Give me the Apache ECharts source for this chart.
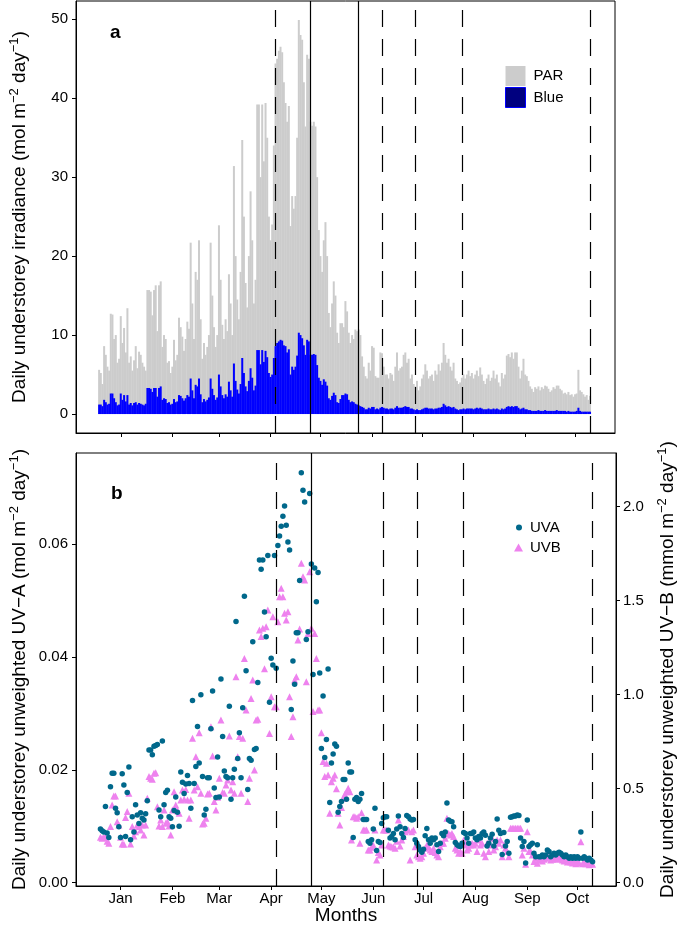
<!DOCTYPE html>
<html><head><meta charset="utf-8">
<script src="https://cdn.jsdelivr.net/npm/echarts@6/dist/echarts.min.js"></script>
<style>html,body{margin:0;padding:0;background:#fff}#c{width:685px;height:935px}</style>
</head><body><div id="c"></div>
<script>
// ---- data (day 0 = 1 January) ----
const monthTickDays = [0,31,59,90,120,151,181,212,243,273];
const monthLabels = ['Jan','Feb','Mar','Apr','May','Jun','Jul','Aug','Sep','Oct'];

const parStartDay = -13;
const par = [
5.6,5.2,3.8,8.6,7.5,6,5.5,12.7,12.6,9.5,
10,6.5,7,12.4,9,10.9,7.8,13.4,6.5,7.3,
5.5,6.8,8.6,5.8,7.9,7.5,6.5,6,5.5,15.7,
15.7,15.5,12.5,15.7,16.3,10.5,16.3,16.8,8.5,10,
9.5,6.5,6.7,5.2,6,9.4,6.8,7.5,12.2,11,
9.8,8,9.5,11.7,10.8,21.7,14,9.5,18,17,
22,12,7,9,7.5,8.5,10,21.7,15,11,
8.5,10,23.9,17,11.3,9.5,12,10.5,17.7,14,
10,31.4,20,14.5,12,18,34.7,25,16.6,13.5,
20,28.2,22,14,17,39.2,39.2,30,39.2,32,
39.4,35,25,22,24,34,44.4,45,46,46.5,
45.8,42,39.4,37,39,23.8,27.6,26,27.6,35,
49.9,48,47.4,42,36.4,45.5,45,37,36.5,37,
36.4,30,23.3,20,18,22,24.3,20,12.8,11,
14,16.8,15,10.3,9,11.5,11.5,11,14.3,13,
10.3,9,10,9.5,10.7,10.5,10.7,10,7.3,6,
4.8,4.5,6.5,5.5,8.6,8.4,4.8,4.6,4.6,7.8,
7.7,6,5,5,4.5,5.2,5,4.2,6,7.8,
5.5,5.8,6,7.5,7.8,6.5,7,4.5,5,3.8,
3.5,4.2,3,3.5,4.5,5,6.3,5.5,4.5,4.8,
5,4.2,5.5,5,6.3,5.5,6.5,9,7.5,6.5,
7,6,5.5,6.5,4.5,4.2,3.8,4,4.6,5,
4.5,5,5.5,4.8,5.2,4.5,5,5.5,4.8,5.9,
5,4.2,3.8,4.5,5,4.2,4.6,5.5,4.5,5,
4,3.5,5.2,4.5,5,7.4,7.6,7.2,7.8,7,
7.8,7.8,6,4.5,5.5,7,5,4.8,4.2,3.5,
3.2,2.8,3.4,3.2,3.5,3,3.4,3.2,3.6,3.5,
3.2,2.8,3,3.4,3.2,3.6,3.6,3.2,3,2.6,
2.7,2.5,2.8,2.4,2.5,2.2,2.5,2.6,5.6,3,
2.8,2.5,2.2,2.4,1.8,2.3];
const blue = [
1.2,1.2,1,1.8,1.5,1.2,1.3,2.6,2.6,2,
1.5,1.1,1.2,2.6,1.8,2.4,1.6,2.4,1.2,1.4,
1.1,1.4,1.5,1.2,1.4,1.3,1.2,1.1,1.3,3.3,
3.3,3.2,2.8,3.3,3.3,2.2,3.3,3.5,1.8,2,
1.9,1.4,1.5,1.2,1.3,1.9,1.5,1.6,2.4,2.3,
2,1.7,2,2.4,2.2,4.5,3,2,3.7,3.5,
4.5,2.5,1.5,1.9,1.6,1.8,2.1,4.5,3.2,2.4,
1.8,2.1,5,3.5,2.4,2,2.5,2.2,4.1,3,
2.2,6.4,4.2,3.1,2.6,3.8,7.1,5.2,3.5,2.9,
4.2,5.8,4.6,3,3.6,8.1,8.1,6.3,8.1,6.6,
8,7.2,5.2,4.7,5,7.1,8.6,9,9.2,9.4,
9.3,8.7,8.6,7.8,8.2,5,6,5.6,6,7.4,
10.3,10,9.6,8.7,7.5,9.4,9.2,7.5,7.5,7.6,
7.5,6.2,4.6,4.2,3.7,4.4,4.1,3.6,2,1.8,
2.3,2.7,2.4,1.5,1.4,1.9,2.4,2.4,2.6,2.5,
1.8,1.5,1.6,1.5,1.3,1.2,1.1,1,0.9,0.8,
0.6,0.6,0.8,0.7,0.9,0.9,0.6,0.7,0.6,0.8,
0.9,0.8,0.7,0.7,0.6,0.7,0.7,0.6,0.8,1,
0.8,0.8,0.8,0.9,1,0.9,0.9,0.7,0.7,0.6,
0.5,0.6,0.5,0.5,0.6,0.7,0.8,0.8,0.7,0.7,
0.7,0.6,0.7,0.7,0.8,0.8,0.9,1.3,1.1,0.9,
1,0.9,0.8,0.9,0.7,0.6,0.5,0.6,0.6,0.7,
0.6,0.7,0.7,0.7,0.7,0.6,0.7,0.8,0.7,0.8,
0.7,0.6,0.6,0.6,0.7,0.6,0.6,0.7,0.6,0.7,
0.6,0.5,0.7,0.6,0.7,0.9,1,0.9,1,0.9,
1,1,0.8,0.6,0.7,0.8,0.6,0.6,0.5,0.5,
0.4,0.4,0.4,0.4,0.5,0.4,0.4,0.4,0.5,0.4,
0.4,0.4,0.4,0.4,0.4,0.5,0.4,0.4,0.4,0.4,
0.4,0.3,0.4,0.3,0.3,0.3,0.3,0.4,0.8,0.4,
0.3,0.3,0.3,0.3,0.3,0.3];

const uvStartDay = -12;
const uva = [
0.0095,0.0092,0.009,0.0135,0.0088,0.008,0.017,0.0194,0.0194,0.0132,
0.0124,0.0099,0.008,0.0193,0.0173,0.0082,0.016,0.0205,0.0076,0.0117,
0.009,0.0138,0.012,0.0105,0.0124,0.0114,0.0111,0.0122,0.0145,0.0235,
0.0235,0.0227,0.0242,0.0243,0.0245,0.0129,0.0117,0.0251,0.0138,0.016,
0.0164,0.0117,0.0114,0.0099,0.0128,0.0152,0.0125,0.01,0.0196,0.0178,
0.0158,0.0175,0.019,0.0176,0.0132,0.0323,0.0176,0.0206,0.0277,0.0212,
0.0333,0.0188,0.012,0.013,0.0186,0.0186,0.0273,0.034,0.0168,0.0151,
0.0223,0.0152,0.0361,0.0259,0.0198,0.0188,0.0186,0.0313,0.0148,0.0186,
0.0201,0.0463,0.022,0.0266,0.0186,0.031,0.0508,0.0376,0.0165,0.022,
0.0217,0.0427,0.0236,0.0238,0.0355,0.0572,0.0556,0.0572,0.048,0.0436,
0.058,0.032,0.0398,0.0386,0.058,0.038,0.0598,0.0615,0.0632,0.065,
0.0668,0.0634,0.0604,0.059,0.0307,0.0393,0.0352,0.0443,0.0443,0.0536,
0.0727,0.0696,0.0675,0.0431,0.0445,0.069,0.0565,0.0369,0.0558,0.0498,
0.055,0.0372,0.0238,0.0331,0.0222,0.0254,0.0379,0.0142,0.0212,0.0228,
0.0246,0.0242,0.0125,0.0135,0.0144,0.0183,0.0183,0.0148,0.0212,0.0196,
0.0196,0.008,0.0148,0.0151,0.0144,0.0148,0.0158,0.0112,0.0112,0.0112,
0.0073,0.007,0.0076,0.0095,0.0132,0.0057,0.0073,0.0071,0.0105,0.0115,
0.0117,0.0117,0.0093,0.0079,0.0082,0.0087,0.0076,0.0095,0.0118,0.0099,
0.0087,0.008,0.0096,0.0119,0.0117,0.0113,0.0111,0.0112,0.0076,0.007,
0.0064,0.0058,0.0054,0.0059,0.0083,0.0096,0.0076,0.007,0.0079,0.0076,
0.0079,0.0067,0.0055,0.007,0.0087,0.0083,0.009,0.0141,0.0111,0.0109,
0.0108,0.0099,0.0071,0.0067,0.0065,0.0064,0.007,0.0089,0.0087,0.0079,
0.007,0.0087,0.0087,0.009,0.0079,0.0076,0.0082,0.0079,0.0087,0.009,
0.0084,0.0065,0.007,0.0079,0.0086,0.0065,0.0073,0.0113,0.0093,0.0087,
0.005,0.0089,0.0065,0.0073,0.0052,0.0116,0.0117,0.0118,0.0118,0.012,
0.0119,0.0079,0.0064,0.0073,0.0035,0.0111,0.0064,0.0067,0.007,0.0052,
0.0046,0.0067,0.0046,0.0046,0.0049,0.0046,0.0049,0.0058,0.0055,0.0046,
0.0049,0.0052,0.0049,0.0052,0.0054,0.0052,0.0049,0.0046,0.0049,0.0046,
0.0043,0.0046,0.0043,0.0046,0.0043,0.0046,0.0043,0.009,0.0043,0.0046,
0.0043,0.004,0.0043,0.004,0.0037];
const uvb = [
0.241,0.236,0.24,0.245,0.22,0.209,0.298,0.413,0.461,0.461,
0.324,0.307,0.241,0.206,0.204,0.346,0.378,0.475,0.206,0.298,
0.248,0.271,0.307,0.298,0.28,0.307,0.254,0.307,0.449,0.564,
0.555,0.55,0.582,0.585,0.404,0.301,0.333,0.298,0.387,0.316,
0.324,0.301,0.254,0.387,0.484,0.413,0.383,0.369,0.44,0.493,
0.443,0.496,0.44,0.342,0.44,0.768,0.493,0.67,0.51,0.798,
0.475,0.312,0.316,0.342,0.472,0.475,0.83,0.674,0.431,0.387,
0.454,0.555,0.865,0.479,0.475,0.52,0.546,0.78,0.493,0.537,
0.475,1.096,0.67,0.777,0.475,0.768,1.193,0.918,0.431,0.555,
0.98,1.078,0.599,0.865,0.869,1.344,1.309,1.353,1.138,1.362,
1.45,0.794,0.989,1.415,0.936,0.936,1.388,1.521,1.566,1.521,
1.433,1.397,1.441,0.989,0.777,0.883,1.078,1.096,1.291,1.35,
1.699,1.628,1.61,1.069,1.326,1.654,1.353,0.91,1.326,1.193,
0.918,0.918,0.798,0.644,0.564,0.635,0.573,0.369,0.537,0.555,
0.573,0.5,0.369,0.307,0.4,0.449,0.47,0.484,0.502,0.484,
0.227,0.351,0.351,0.342,0.351,0.209,0.372,0.28,0.28,0.28,
0.174,0.174,0.188,0.2,0.28,0.121,0.16,0.147,0.2,0.28,
0.28,0.28,0.2,0.195,0.191,0.19,0.183,0.22,0.333,0.195,
0.227,0.245,0.271,0.28,0.28,0.121,0.271,0.28,0.191,0.147,
0.138,0.129,0.138,0.156,0.183,0.2,0.191,0.174,0.165,0.183,
0.16,0.147,0.138,0.191,0.209,0.209,0.236,0.342,0.262,0.254,
0.262,0.245,0.183,0.174,0.156,0.165,0.156,0.227,0.2,0.174,
0.183,0.2,0.209,0.2,0.209,0.165,0.227,0.2,0.209,0.156,
0.138,0.209,0.165,0.2,0.236,0.174,0.191,0.227,0.209,0.227,
0.138,0.2,0.183,0.165,0.138,0.289,0.289,0.289,0.289,0.289,
0.289,0.289,0.147,0.183,0.098,0.271,0.165,0.165,0.147,0.112,
0.129,0.103,0.12,0.13,0.115,0.125,0.13,0.14,0.135,0.12,
0.125,0.13,0.13,0.125,0.135,0.13,0.12,0.115,0.12,0.11,
0.115,0.11,0.105,0.11,0.1,0.11,0.105,0.218,0.1,0.11,
0.1,0.105,0.095,0.1,0.098];

const dashedDaysTop = [93,157,177,205,282];
const solidDaysTop = [114,143];
const dashedDaysBottom = [93,157,177,205,282];
const solidDaysBottom = [114];

const parTicks = [0,10,20,30,40,50];
const uvaTicks = [0,0.02,0.04,0.06];
const uvbTicks = [0,0.5,1,1.5,2];

// ---- chart ----
const FONT = 'Liberation Sans, Arial, Helvetica, sans-serif';
const toPairs = (arr, start) => arr.map((v, i) => [start + i, v]);

function vlines(dashed, solid) {
  return {
    symbol: ['none','none'], silent: true, animation: false,
    label: {show: false},
    emphasis: {disabled: true},
    data: dashed.map(d => ({xAxis: d, lineStyle: {type: [17, 12], color: '#000', width: 1.2}}))
      .concat(solid.map(d => ({xAxis: d, lineStyle: {type: 'solid', color: '#000', width: 1.2}})))
  };
}

const axisCommon = {
  axisLine: {show: true, onZero: false, lineStyle: {color: '#000', width: 1}},
  splitLine: {show: false},
  nameMoveOverlap: false
};
const tickStyle = {show: true, length: 4, lineStyle: {color: '#000', width: 1}};
const supName = {fontSize: 19, color: '#000', fontFamily: FONT, lineHeight: 24,
  rich: {s: {fontSize: 13, lineHeight: 13, verticalAlign: 'top', color: '#000', fontFamily: FONT}}};

const chart = echarts.init(document.getElementById('c'), null, {renderer: 'canvas'});
chart.setOption({
  animation: false,
  backgroundColor: '#fff',
  grid: [
    {left: 76, top: 1, width: 539, height: 432, show: true, borderColor: '#000', borderWidth: 1,
      containLabel: false, outerBoundsMode: 'none'},
    {left: 76, top: 453, width: 540, height: 433, show: true, borderColor: '#000', borderWidth: 1,
      containLabel: false, outerBoundsMode: 'none'}
  ],
  xAxis: [
    Object.assign({}, axisCommon, {
      gridIndex: 0, type: 'value', min: -26.9, max: 297,
      axisTick: Object.assign({customValues: monthTickDays}, tickStyle),
      axisLabel: {show: false}
    }),
    Object.assign({}, axisCommon, {
      gridIndex: 1, type: 'value', min: -26.6, max: 296,
      axisTick: Object.assign({customValues: monthTickDays}, tickStyle),
      axisLabel: {customValues: monthTickDays, margin: 5, fontSize: 15, color: '#000', fontFamily: FONT,
        formatter: v => monthLabels[monthTickDays.indexOf(v)] || ''},
      name: 'Months', nameLocation: 'middle', nameGap: 20,
      nameTextStyle: {fontSize: 19, color: '#000', fontFamily: FONT}
    })
  ],
  yAxis: [
    Object.assign({}, axisCommon, {
      gridIndex: 0, type: 'value', min: -2.4, max: 52.3,
      axisTick: Object.assign({customValues: parTicks}, tickStyle),
      axisLabel: {customValues: parTicks, margin: 8, fontSize: 15, color: '#000', fontFamily: FONT},
      name: 'Daily understorey irradiance (mol m{s|\u22122} day{s|\u22121})',
      nameLocation: 'middle', nameGap: 44, nameTextStyle: supName
    }),
    Object.assign({}, axisCommon, {
      gridIndex: 1, type: 'value', min: -0.0006, max: 0.0762,
      axisTick: Object.assign({customValues: uvaTicks}, tickStyle),
      axisLabel: {customValues: uvaTicks, margin: 8, fontSize: 15, color: '#000', fontFamily: FONT,
        formatter: v => v.toFixed(2)},
      name: 'Daily understorey unweighted UV\u2212A (mol m{s|\u22122} day{s|\u22121})',
      nameLocation: 'middle', nameGap: 44, nameTextStyle: supName
    }),
    Object.assign({}, axisCommon, {
      gridIndex: 1, type: 'value', position: 'right', min: -0.018, max: 2.286,
      axisTick: Object.assign({customValues: uvbTicks}, tickStyle),
      axisLabel: {customValues: uvbTicks, margin: 7, fontSize: 15, color: '#000', fontFamily: FONT,
        formatter: v => v.toFixed(1)},
      name: 'Daily understorey unweighted UV\u2212B (mmol m{s|\u22122} day{s|\u22121})',
      nameLocation: 'middle', nameGap: 40, nameRotate: 90, nameTextStyle: supName
    })
  ],
  legend: [
    {data: ['PAR', {name: 'Blue', itemStyle: {color: '#00007F', borderColor: '#0000FF', borderWidth: 1}}],
      orient: 'vertical', left: 505, top: 66, itemWidth: 20, itemHeight: 20, itemGap: 1, padding: 0,
      icon: 'rect', selectedMode: false,
      textStyle: {fontSize: 15, color: '#000', fontFamily: FONT, padding: [0,0,0,3]}},
    {data: [{name: 'UVA', icon: 'circle'}], left: 516, top: 520, itemWidth: 6, itemHeight: 6, padding: 0,
      selectedMode: false, textStyle: {fontSize: 15, color: '#000', fontFamily: FONT, padding: [0,0,0,3]}},
    {data: [{name: 'UVB', icon: 'triangle'}], left: 514, top: 540, itemWidth: 9, itemHeight: 8, padding: 0,
      selectedMode: false, textStyle: {fontSize: 15, color: '#000', fontFamily: FONT, padding: [0,0,0,2]}}
  ],
  graphic: [
    {type: 'text', left: 110, top: 23, style: {text: 'a', font: 'bold 19px ' + FONT, fill: '#000'}},
    {type: 'text', left: 111, top: 484, style: {text: 'b', font: 'bold 19px ' + FONT, fill: '#000'}}
  ],
  series: [
    {name: 'PAR', type: 'bar', xAxisIndex: 0, yAxisIndex: 0, data: toPairs(par, parStartDay),
      barWidth: 2, barGap: '-100%', itemStyle: {color: '#CCCCCC'}, silent: true,
      markLine: vlines(dashedDaysTop, solidDaysTop)},
    {name: 'Blue', type: 'bar', xAxisIndex: 0, yAxisIndex: 0, data: toPairs(blue, parStartDay),
      barWidth: 2, barGap: '-100%', itemStyle: {color: '#0000FF'}, silent: true},
    {name: 'UVB', type: 'scatter', xAxisIndex: 1, yAxisIndex: 2, data: toPairs(uvb, uvStartDay),
      symbol: 'triangle', symbolSize: 7, itemStyle: {color: '#EE82EE', opacity: 1}, silent: true,
      markLine: vlines(dashedDaysBottom, solidDaysBottom)},
    {name: 'UVA', type: 'scatter', xAxisIndex: 1, yAxisIndex: 1, data: toPairs(uva, uvStartDay),
      symbol: 'circle', symbolSize: 5.5, itemStyle: {color: '#00688B', opacity: 1}, silent: true}
  ]
});
</script></body></html>
